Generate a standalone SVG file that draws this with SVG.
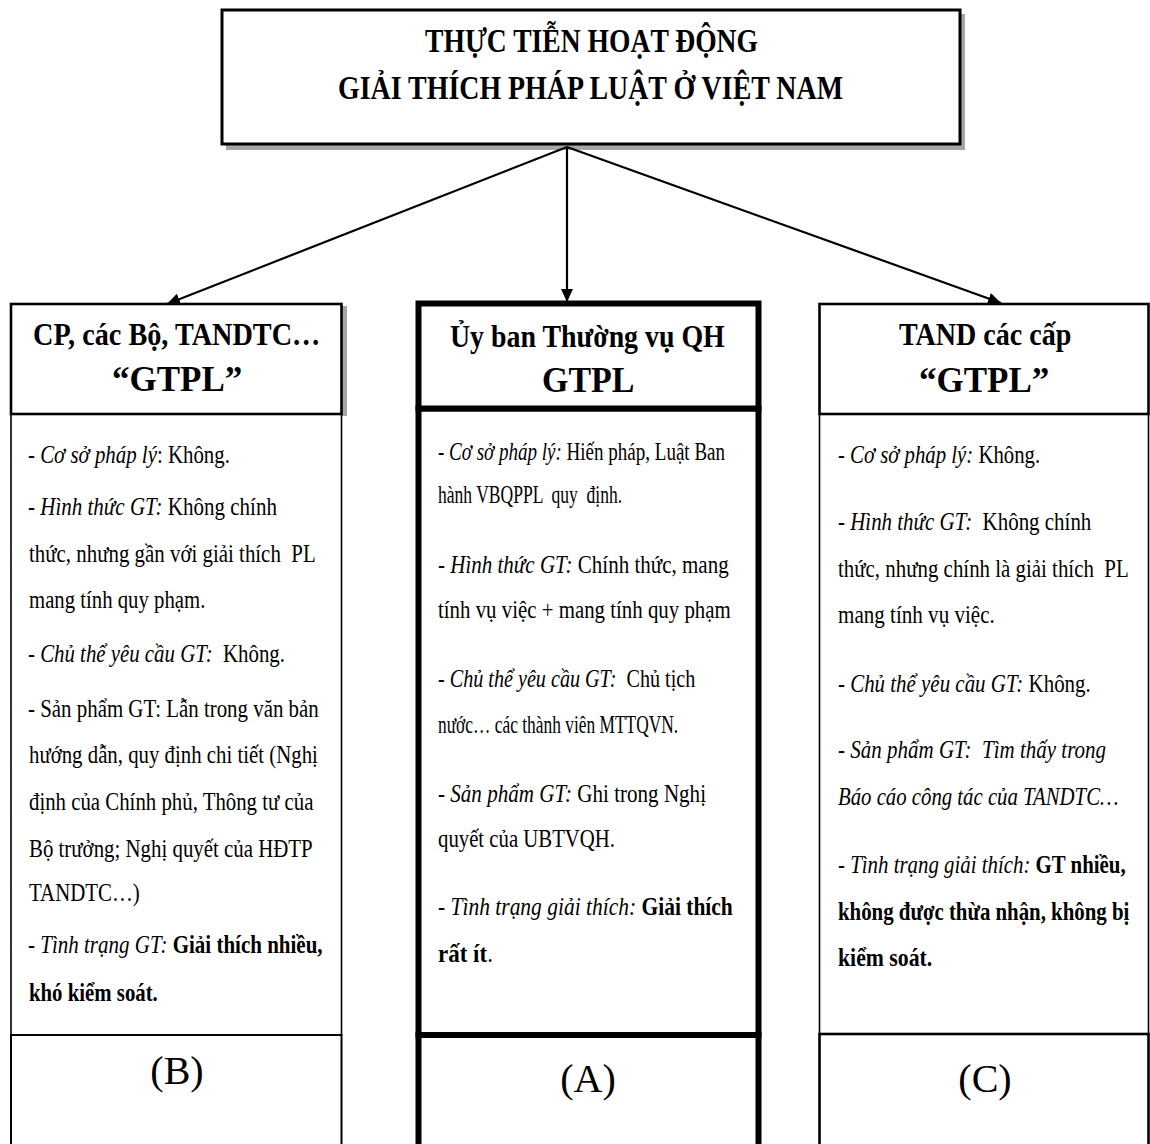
<svg xmlns="http://www.w3.org/2000/svg" width="1150" height="1144" viewBox="0 0 1150 1144">
<style>
  text { font-family: "Liberation Serif", "Times New Roman", serif; fill: #000; white-space: pre; }
  .title { font-size: 34px; font-weight: bold; text-anchor: middle; }
  .head { font-size: 31px; font-weight: bold; }
  .head2 { font-size: 35px; font-weight: bold; }
  .body { font-size: 25px; }
  .lab { font-size: 40px; text-anchor: middle; }
  .i { font-style: italic; }
  .b { font-weight: bold; }
  .box { fill: #fff; stroke: #000; }
  .shadow { fill: #a6a6a6; stroke: none; }
  .conn { stroke: #000; stroke-width: 2.2; fill: none; }
</style>
<defs>
  <marker id="arr" markerUnits="userSpaceOnUse" markerWidth="14" markerHeight="12" refX="13" refY="6" orient="auto">
    <path d="M0,0 L13,6 L0,12 z" fill="#000"/>
  </marker>
</defs>
<rect x="0" y="0" width="1150" height="1144" fill="#fff"/>

<g id="node-top">
  <rect class="shadow" x="226" y="14" width="739" height="136"/>
  <rect class="box" x="222" y="10" width="738" height="134" stroke-width="3"/>
  <text class="title" transform="translate(591.5,52) scale(0.812,1)">THỰC TIỄN HOẠT ĐỘNG</text>
  <text class="title" transform="translate(590.5,99) scale(0.821,1)">GIẢI THÍCH PHÁP LUẬT Ở VIỆT NAM</text>
</g>

<g id="connectors">
  <line class="conn" x1="567" y1="147" x2="167" y2="304" marker-end="url(#arr)"/>
  <line class="conn" x1="567" y1="147" x2="567" y2="302" marker-end="url(#arr)"/>
  <line class="conn" x1="567" y1="147" x2="1001" y2="303" marker-end="url(#arr)"/>
</g>

<g id="node-b">
  <rect class="shadow" x="342" y="306" width="5" height="110"/>
  <rect class="box" x="11" y="414" width="330.5" height="621" stroke-width="1.6"/>
  <rect class="box" x="11" y="1035" width="330.5" height="130" stroke-width="2"/>
  <rect class="box" x="11" y="304" width="330.5" height="110" stroke-width="2.6"/>
  <text class="head" transform="translate(33,345) scale(0.911,1)">CP, các Bộ, TANDTC…</text>
  <text class="head2" transform="translate(112,391) scale(1,1)">“GTPL”</text>
  <text class="body" transform="translate(28,463) scale(0.835,1)">- <tspan class="i">Cơ sở pháp lý</tspan>: Không.</text>
  <text class="body" transform="translate(28,515) scale(0.841,1)">- <tspan class="i">Hình thức GT:</tspan> Không chính</text>
  <text class="body" transform="translate(29,562) scale(0.836,1)">thức, nhưng gần với giải thích  PL</text>
  <text class="body" transform="translate(29,608) scale(0.83,1)">mang tính quy phạm.</text>
  <text class="body" transform="translate(28,662) scale(0.834,1)">- <tspan class="i">Chủ thể yêu cầu GT:</tspan>  Không.</text>
  <text class="body" transform="translate(28,717) scale(0.836,1)">- Sản phẩm GT: Lẫn trong văn bản</text>
  <text class="body" transform="translate(29,763) scale(0.833,1)">hướng dẫn, quy định chi tiết (Nghị</text>
  <text class="body" transform="translate(29,810) scale(0.833,1)">định của Chính phủ, Thông tư của</text>
  <text class="body" transform="translate(29,857) scale(0.835,1)">Bộ trưởng; Nghị quyết của HĐTP</text>
  <text class="body" transform="translate(29,901) scale(0.835,1)">TANDTC…)</text>
  <text class="body" transform="translate(28,953) scale(0.84,1)">- <tspan class="i">Tình trạng GT:</tspan><tspan class="b"> Giải thích nhiều,</tspan></text>
  <text class="body b" transform="translate(29,1001) scale(0.832,1)">khó kiểm soát.</text>
  <text class="lab" x="177" y="1084">(B)</text>
</g>

<g id="node-a">
  <rect class="box" x="418.5" y="408.5" width="340" height="626.5" stroke-width="6"/>
  <rect class="box" x="418.5" y="1035" width="340" height="130" stroke-width="6"/>
  <rect class="box" x="418.5" y="303.5" width="340" height="105" stroke-width="6"/>
  <text class="head" transform="translate(450,347) scale(0.899,1)">Ủy ban Thường vụ QH</text>
  <text class="head2" transform="translate(542,392) scale(0.97,1)">GTPL</text>
  <text class="body" transform="translate(438,460) scale(0.761,1)">- <tspan class="i">Cơ sở pháp lý:</tspan> Hiến pháp, Luật Ban</text>
  <text class="body" transform="translate(438,503) scale(0.702,1)">hành VBQPPL  quy  định.</text>
  <text class="body" transform="translate(438,573) scale(0.841,1)">- <tspan class="i">Hình thức GT:</tspan> Chính thức, mang</text>
  <text class="body" transform="translate(438,618) scale(0.835,1)">tính vụ việc + mang tính quy phạm</text>
  <text class="body" transform="translate(438,687) scale(0.806,1)">- <tspan class="i">Chủ thể yêu cầu GT:</tspan>  Chủ tịch</text>
  <text class="body" transform="translate(438,733) scale(0.696,1)">nước… các thành viên MTTQVN.</text>
  <text class="body" transform="translate(438,802) scale(0.843,1)">- <tspan class="i">Sản phẩm GT:</tspan> Ghi trong Nghị</text>
  <text class="body" transform="translate(438,847) scale(0.831,1)">quyết của UBTVQH.</text>
  <text class="body" transform="translate(438,915) scale(0.86,1)">- <tspan class="i">Tình trạng giải thích:</tspan><tspan class="b"> Giải thích</tspan></text>
  <text class="body" transform="translate(438,962) scale(0.92,1)"><tspan class="b">rất ít</tspan>.</text>
  <text class="lab" x="588" y="1092">(A)</text>
</g>

<g id="node-c">
  <rect class="box" x="819.5" y="414" width="329" height="620" stroke-width="1.6"/>
  <rect class="box" x="819.5" y="1034" width="329" height="130" stroke-width="2.6"/>
  <rect class="box" x="819.5" y="304" width="329" height="110" stroke-width="2.6"/>
  <text class="head" transform="translate(899,345) scale(0.905,1)">TAND các cấp</text>
  <text class="head2" transform="translate(919,392) scale(1,1)">“GTPL”</text>
  <text class="body" transform="translate(838,463) scale(0.831,1)">- <tspan class="i">Cơ sở pháp lý:</tspan> Không.</text>
  <text class="body" transform="translate(838,530) scale(0.838,1)">- <tspan class="i">Hình thức GT:</tspan>  Không chính</text>
  <text class="body" transform="translate(838,577) scale(0.836,1)">thức, nhưng chính là giải thích  PL</text>
  <text class="body" transform="translate(838,623) scale(0.843,1)">mang tính vụ việc.</text>
  <text class="body" transform="translate(838,692) scale(0.837,1)">- <tspan class="i">Chủ thể yêu cầu GT:</tspan> Không.</text>
  <text class="body" transform="translate(838,758) scale(0.84,1)">- <tspan class="i">Sản phẩm GT:  Tìm thấy trong</tspan></text>
  <text class="body i" transform="translate(838,805) scale(0.831,1)">Báo cáo công tác của TANDTC…</text>
  <text class="body" transform="translate(838,873) scale(0.835,1)">- <tspan class="i">Tình trạng giải thích:</tspan><tspan class="b"> GT nhiều,</tspan></text>
  <text class="body b" transform="translate(838,920) scale(0.834,1)">không được thừa nhận, không bị</text>
  <text class="body b" transform="translate(838,966) scale(0.87,1)">kiểm soát.</text>
  <text class="lab" x="985" y="1092">(C)</text>
</g>
</svg>
